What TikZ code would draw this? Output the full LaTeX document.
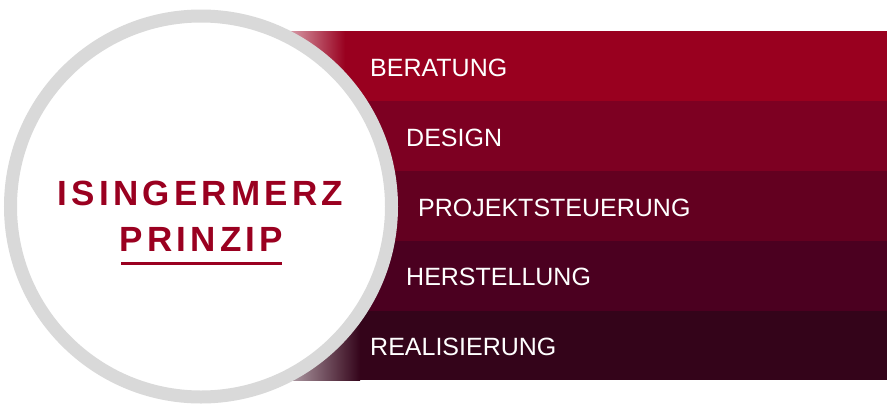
\documentclass[tikz,border=0pt]{standalone}
\usepackage{fontspec}
\setmainfont{Liberation Sans}
\newfontfamily\titlefont[LetterSpace=12]{Liberation Sans}
\definecolor{bandA}{HTML}{99001F}
\definecolor{bandB}{HTML}{7D0022}
\definecolor{bandC}{HTML}{630020}
\definecolor{bandD}{HTML}{4B0020}
\definecolor{bandE}{HTML}{34041A}
\definecolor{titlered}{HTML}{9A0020}
\definecolor{ringgray}{HTML}{D9D9D9}
\begin{document}
\begin{tikzpicture}[x=1pt,y=-1pt,
  lab/.style={text=white, inner sep=0pt, anchor=base west, font=\fontsize{25}{30}\selectfont},
  ttl/.style={text=titlered, inner sep=0pt, anchor=base, font=\titlefont\bfseries\fontsize{35}{42}\selectfont}]
\useasboundingbox (0,0) rectangle (892,413);
\fill[white] (0,0) rectangle (892,413);
% bands
\foreach \c/\ya/\yb/\fe in {bandA/31/101/345, bandB/101/171/345, bandC/171/241/345, bandD/241/311/350, bandE/311/380/360}{
  \fill[\c] (290,\ya) rectangle (887,\yb);
  \shade[left color=\c!40!white, right color=\c] (290,\ya) rectangle (\fe,\yb);
}
% circle
\node[circle, draw=ringgray, line width=13pt, fill=white, minimum size=381pt, inner sep=0pt] (circ) at (201,206.5) {};
% title
\node[ttl] (t1) at (200.5,205) {ISINGERMERZ};
\node[ttl] (t2) at (201.5,251) {PRINZIP};
\coordinate (ul1) at (121,263);
\coordinate (ul2) at (282,263);
\draw[titlered, line width=3pt] (ul1) -- (ul2);
% labels
\node[lab] (l1) at (370,76) {BERATUNG};
\node[lab] (l2) at (406,146) {DESIGN};
\node[lab] (l3) at (418,216) {PROJEKTSTEUERUNG};
\node[lab] (l4) at (406,285) {HERSTELLUNG};
\node[lab] (l5) at (370,355) {REALISIERUNG};
\end{tikzpicture}
\end{document}
